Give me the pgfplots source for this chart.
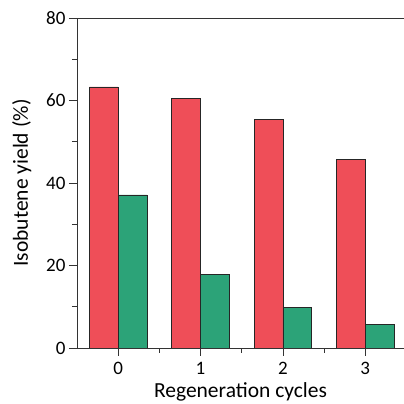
\documentclass[border=0pt]{standalone}
\usepackage{pgfplots}
\pgfplotsset{compat=1.18}
\usepackage{fontspec}
\setmainfont{Carlito}
\definecolor{barred}{RGB}{239,78,88}
\definecolor{bargreen}{RGB}{44,163,120}
\begin{document}
\begin{tikzpicture}
\begin{axis}[
  name=ax,
  scale only axis,
  width=327pt, height=330pt,
  xmin=-0.5, xmax=3.47,
  ymin=0, ymax=80,
  axis x line=box,
  axis y line=left,
  axis line style={-, line width=0.8pt, black!80},
  xtick={0,1,2,3},
  minor xtick={0.5,1.5,2.5},
  ytick={0,20,40,60,80},
  minor ytick={10,30,50,70},
  xtick pos=bottom,
  ytick pos=left,
  tick align=outside,
  major tick length=8pt,
  minor tick length=5pt,
  tick style={line width=0.8pt, black!80},
  /pgf/number format/assume math mode=true,
  tick label style={font=\fontsize{19}{21}\selectfont},
  xticklabel style={yshift=-3pt},
  label style={font=\fontsize{21.5}{24}\selectfont},
  xlabel={Regeneration cycles},
  ylabel={Isobutene yield (\%)},
  xlabel style={yshift=-1pt},
  ylabel style={yshift=8pt},
  ybar,
  bar width=0.35,
  every axis plot/.append style={draw=black!85, line width=0.6pt},
]
\addplot[fill=barred, bar shift=-0.175] coordinates {(0,63.3) (1,60.6) (2,55.5) (3,45.8)};
\addplot[fill=bargreen, bar shift=0.175] coordinates {(0,37.1) (1,17.9) (2,9.9) (3,5.8)};
\end{axis}
\pgfresetboundingbox
\path[use as bounding box] ([xshift=-77pt,yshift=-56pt]ax.south west) rectangle ([xshift=327pt,yshift=18pt]ax.north west);
\end{tikzpicture}
\end{document}
